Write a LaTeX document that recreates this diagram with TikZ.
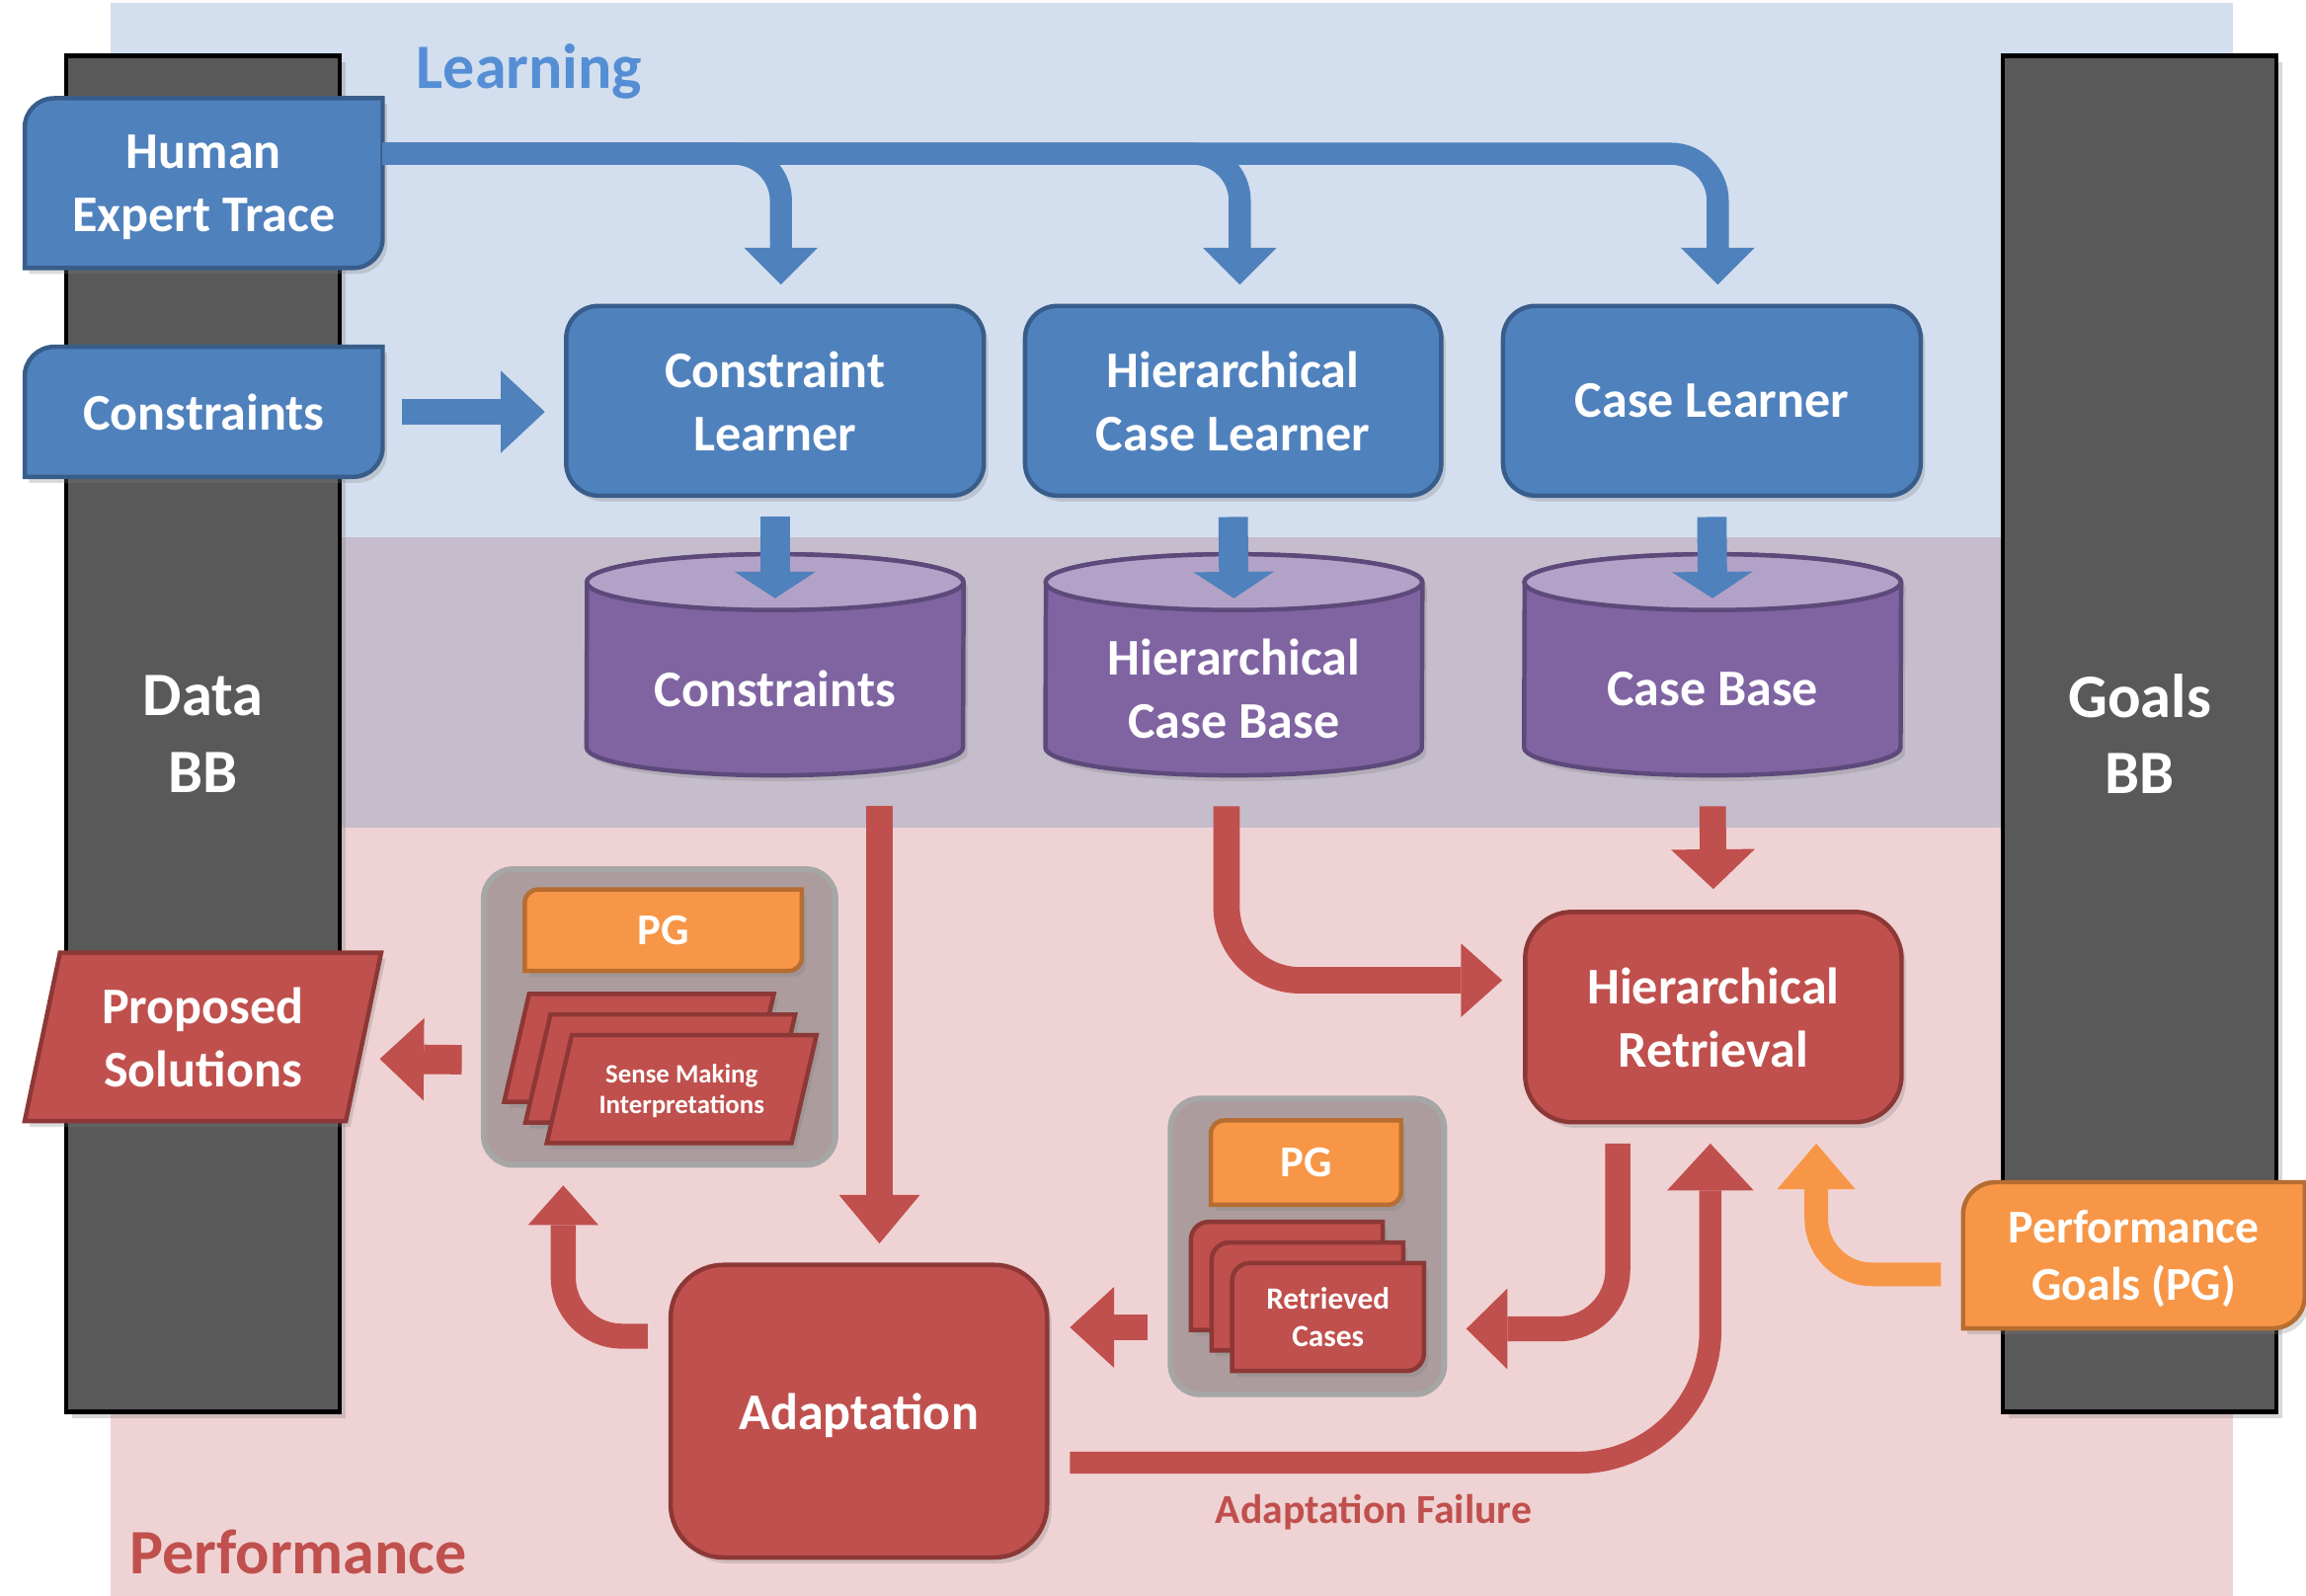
\documentclass[tikz,border=0pt]{standalone}
\usepackage{fontspec}
\setmainfont{Carlito}
\usetikzlibrary{arrows.meta,calc,shadows}
\definecolor{bandB}{RGB}{211,223,238}
\definecolor{bandP}{RGB}{197,188,204}
\definecolor{bandR}{RGB}{239,211,212}
\definecolor{bfill}{RGB}{79,129,189}
\definecolor{bline}{RGB}{56,93,138}
\definecolor{rfill}{RGB}{192,80,77}
\definecolor{rline}{RGB}{140,56,54}
\definecolor{ofill}{RGB}{247,150,70}
\definecolor{oline}{RGB}{182,109,49}
\definecolor{pfill}{RGB}{128,100,162}
\definecolor{ptop}{RGB}{179,162,199}
\definecolor{pline}{RGB}{93,73,122}
\definecolor{barfill}{RGB}{89,89,89}
\definecolor{grpfill}{RGB}{172,156,157}
\definecolor{grpline}{RGB}{166,166,166}
\definecolor{learnc}{RGB}{85,142,213}
\pgfdeclarelayer{bands}
\pgfdeclarelayer{shapes}
\pgfsetlayers{bands,shapes,main}

\newcommand\mydiag[3]{%
  \begin{pgfonlayer}{shapes}
  \path[#3] let \p1=(#1.north west), \p2=(#1.south east) in
    (\x1,\y2) -- (\x1,{\y1-#2pt})
    .. controls (\x1,{\y1-0.448*#2pt}) and ({\x1+0.448*#2pt},\y1) .. ({\x1+#2pt},\y1)
    -- (\x2,\y1) -- (\x2,{\y2+#2pt})
    .. controls (\x2,{\y2+0.448*#2pt}) and ({\x2-0.448*#2pt},\y2) .. ({\x2-#2pt},\y2)
    -- cycle;
  \end{pgfonlayer}}
\newcommand\mypar[3]{%
  \begin{pgfonlayer}{shapes}
  \path[#3] let \p1=(#1.north west), \p2=(#1.south east) in
    ({\x1+#2pt},\y1) -- (\x2,\y1) -- ({\x2-#2pt},\y2) -- (\x1,\y2) -- cycle;
  \end{pgfonlayer}}
\newcommand\mycyl[1]{%
  \begin{pgfonlayer}{shapes}
  \path[cylbody] let \p1=(#1.north west), \p2=(#1.south east) in
    (\x1,{\y2+18pt}) arc[start angle=180,end angle=360,x radius=128pt,y radius=19pt]
    -- (\x2,{\y1+14pt}) arc[start angle=0,end angle=180,x radius=128pt,y radius=19pt] -- cycle;
  \path[cyltop] let \p1=(#1.north), \p2=(#1.south) in
    (\x1,{\y1+14pt}) ellipse[x radius=128pt,y radius=19pt];
  \end{pgfonlayer}}

\begin{document}
\begin{tikzpicture}[x=1pt,y=-1pt,
  txt/.style={text=white, align=center, font=\bfseries\fontsize{35}{43}\selectfont, inner sep=0pt, text depth=0pt},
  shd/.style={drop shadow={opacity=0.28, shadow xshift=3pt, shadow yshift=-4pt}},
  blueR/.style={txt, rounded corners=22pt, fill=bfill, draw=bline, line width=3pt, shd},
  redR/.style={txt, rounded corners=32pt, fill=rfill, draw=rline, line width=3pt, shd},
  bluefill/.style={fill=bfill, draw=bline, line width=3pt, shd},
  redfill/.style={fill=rfill, draw=rline, line width=3pt, shd},
  orfill/.style={fill=ofill, draw=oline, line width=3pt, shd},
  barnode/.style={fill=barfill, draw=black, line width=3pt, text=white, align=center,
     font=\bfseries\fontsize{42}{52}\selectfont, inner sep=0pt,
     drop shadow={opacity=0.3, shadow xshift=4pt, shadow yshift=-4pt}},
  grp/.style={fill=grpfill, draw=grpline, line width=4pt, rounded corners=20pt, inner sep=0pt},
  cylbody/.style={fill=pfill, draw=pline, line width=3pt, shd},
  cyltop/.style={fill=ptop, draw=pline, line width=3pt},
  arr/.style={line cap=butt},
  tp/.style 2 args={-{Triangle[width=#1pt,length=#2pt,line width=0pt]}},
  lbl/.style={inner sep=0pt, font=\bfseries\fontsize{43}{50}\selectfont}
]
\useasboundingbox (0,0) rectangle (1568,1085);

% ---------- backgrounds ----------
\begin{pgfonlayer}{bands}
\fill[white] (0,0) rectangle (1568,1085);
\fill[bandB] (75,2) rectangle (1518,365);
\fill[bandP] (75,365) rectangle (1518,563);
\fill[bandR] (75,563) rectangle (1518,1085);
\node[barnode, minimum width=186pt, minimum height=922pt] (databb) at (138,499) {Data\\BB};
\node[barnode, minimum width=186pt, minimum height=922pt] (goalsbb) at (1455,499) {Goals\\BB};
\node[grp, minimum width=239pt, minimum height=201pt] (sgrp) at (448.5,691.5) {};
\node[grp, minimum width=186pt, minimum height=201pt] (rgrp) at (889,847.5) {};
\end{pgfonlayer}

% ---------- labels ----------
\node[lbl, text=learnc, anchor=base west] (learnlbl) at (283,60) {Learning};
\node[lbl, text=rfill, anchor=base west] (perflbl) at (88,1070) {Performance};
\node[inner sep=0pt, text=rfill, font=\bfseries\fontsize{28}{34}\selectfont, anchor=base] (afl) at (934,1036) {Adaptation Failure};

% ---------- learning ----------
\node[txt, minimum width=243pt, minimum height=115pt] (hum) at (138.5,124.5) {Human\\Expert Trace};
\mydiag{hum}{20}{bluefill}
\node[txt, minimum width=243pt, minimum height=88pt] (con) at (138.5,280) {Constraints};
\mydiag{con}{20}{bluefill}
\node[blueR, minimum width=284pt, minimum height=129pt] (cl) at (527,272.5) {Constraint\\Learner};
\node[blueR, minimum width=283pt, minimum height=129pt] (hcl) at (838.5,272.5) {Hierarchical\\Case Learner};
\node[blueR, minimum width=284pt, minimum height=129pt] (ccl) at (1164,272.5) {Case Learner};

% ---------- data stores ----------
\node[txt, minimum width=256pt, minimum height=116pt] (cylC) at (527,468) {Constraints};
\mycyl{cylC}
\node[txt, minimum width=256pt, minimum height=116pt] (cylH) at (839,468) {Hierarchical\\Case Base};
\mycyl{cylH}
\node[txt, minimum width=256pt, minimum height=116pt] (cylB) at (1164.5,468) {Case Base};
\mycyl{cylB}

% ---------- performance ----------
\node[redR, minimum width=256pt, minimum height=143pt] (ret) at (1165,691.5) {Hierarchical\\Retrieval};
\node[redR, rounded corners=36pt, minimum width=256pt, minimum height=199pt] (ada) at (584,959.5) {Adaptation};
\node[txt, font=\bfseries\fontsize{32}{39}\selectfont, minimum width=232pt, minimum height=99pt] (pgl) at (1451,853.5) {Performance\\Goals (PG)};
\mydiag{pgl}{22}{orfill}
\node[txt, minimum width=242pt, minimum height=114pt] (props) at (138,705) {Proposed\\Solutions};
\mypar{props}{24}{redfill}

% sense making group
\node[txt, font=\bfseries\fontsize{30}{36}\selectfont, minimum width=188pt, minimum height=55pt] (sgpg) at (451,632.5) {PG};
\mydiag{sgpg}{9}{orfill}
\node[inner sep=0pt, minimum width=183pt, minimum height=73pt] (sm1) at (434.5,712.5) {};
\mypar{sm1}{17}{redfill}
\node[inner sep=0pt, minimum width=183pt, minimum height=73pt] (sm2) at (449,726.5) {};
\mypar{sm2}{17}{redfill}
\node[txt, font=\bfseries\fontsize{18}{21}\selectfont, minimum width=183pt, minimum height=73pt] (sm3) at (463.5,740.5) {Sense Making\\Interpretations};
\mypar{sm3}{17}{redfill}

% retrieved cases group
\node[txt, font=\bfseries\fontsize{30}{36}\selectfont, minimum width=129pt, minimum height=57pt] (rpg) at (888,790.5) {PG};
\mydiag{rpg}{9}{orfill}
\node[inner sep=0pt, minimum width=130pt, minimum height=73pt] (rc1) at (875,867.5) {};
\mydiag{rc1}{12}{redfill}
\node[inner sep=0pt, minimum width=130pt, minimum height=73pt] (rc2) at (889,881.5) {};
\mydiag{rc2}{12}{redfill}
\node[txt, font=\bfseries\fontsize{21}{26}\selectfont, minimum width=130pt, minimum height=73pt] (rc3) at (903,895.5) {Retrieved\\Cases};
\mydiag{rc3}{12}{redfill}

% ---------- connectors ----------
\coordinate (hbus) at ($(hum.east)+(0,-20)$);
\draw[arr, draw=bfill, line width=15pt, rounded corners=32pt, tp={50}{25}] (hbus) -| ($(ccl.north)+(4,-13)$);
\draw[arr, draw=bfill, line width=15pt, rounded corners=32pt, tp={50}{25}] (hbus) -| ($(hcl.north)+(4.5,-13)$);
\draw[arr, draw=bfill, line width=15pt, rounded corners=32pt, tp={50}{25}] (hbus) -| ($(cl.north)+(4,-13)$);
\draw[arr, draw=bfill, line width=18pt, tp={56}{30}] ($(con.east)+(13,0)$) -- ($(cl.west|-con.east)+(-13,0)$);

\draw[arr, draw=bfill, line width=20pt, tp={55}{18}] ($(cl.south)+(0,13)$) -- ($(cylC.north)+(0,-3)$);
\draw[arr, draw=bfill, line width=20pt, tp={55}{18}] ($(hcl.south)+(0,13)$) -- ($(cylH.north)+(0,-3)$);
\draw[arr, draw=bfill, line width=20pt, tp={55}{18}] ($(ccl.south)+(0,13)$) -- ($(cylB.north)+(0,-3)$);

\draw[arr, draw=rfill, line width=18pt, tp={55}{33}] ($(cylC.south)+(71,22)$) -- ($(ada.north)+(14,-13)$);
\draw[arr, draw=rfill, line width=18pt, rounded corners=50pt, tp={50}{28}] ($(cylH.south)+(-5,22)$) |- ($(ret.west)+(-14,-25)$);
\draw[arr, draw=rfill, line width=18pt, tp={57}{27}] ($(cylB.south)+(0,22)$) -- ($(ret.north)+(0,-14)$);

\draw[arr, draw=rfill, line width=17pt, rounded corners=40pt, tp={55}{28}] ($(ret.south)+(-65,13)$) |- ($(rgrp.east)+(13,56)$);
\draw[arr, draw=rfill, line width=18pt, tp={55}{30}] ($(rgrp.west)+(-14,55)$) -- ($(ada.east)+(14,-57)$);
\draw[arr, draw=rfill, line width=15pt, rounded corners=90pt, tp={59}{32}] ($(ada.east)+(14,35)$) -| ($(ret.south)+(-2,13)$);
\draw[arr, draw=ofill, line width=16pt, rounded corners=38pt, tp={53}{31}] ($(pgl.west)+(-15,13)$) -| ($(ret.south)+(70,13)$);

\draw[arr, draw=rfill, line width=17pt, rounded corners=40pt, tp={48}{27}] ($(ada.west)+(-14,-51)$) -| ($(sgrp.south)+(-65.5,12)$);
\draw[arr, draw=rfill, line width=20pt, tp={56}{30}] ($(sgrp.west)+(-13,29)$) -- ($(props.east)+(-1,15)$);
\end{tikzpicture}
\end{document}
